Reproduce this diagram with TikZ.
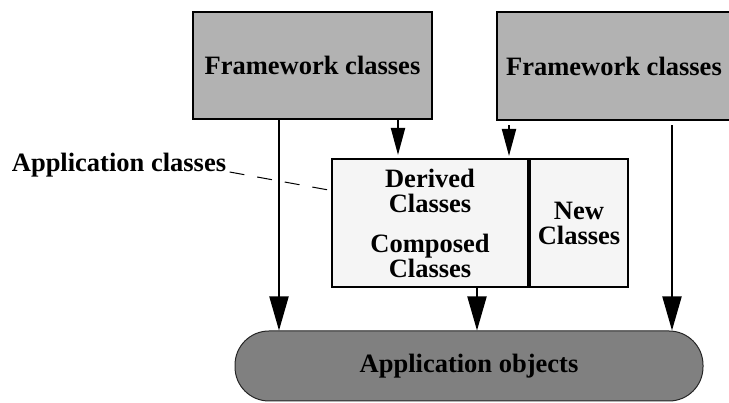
\documentclass[tikz,border=0pt]{standalone}
\usepackage{fontspec}
\setmainfont{Liberation Serif}
\usetikzlibrary{arrows.meta, positioning, calc}

\begin{document}
\begin{tikzpicture}[
    x=1pt, y=-1pt,
    font=\fontsize{26.5}{25}\selectfont\bfseries,
    framework/.style={rectangle, draw=black, line width=2pt, fill=black!30, minimum width=239pt, minimum height=107pt, inner sep=0pt},
    appclass/.style={rectangle, draw=black, line width=2pt, fill=black!4, minimum height=128pt, text centered, align=center, inner sep=0pt},
    objects/.style={rectangle, rounded corners=34pt, draw=black!85, line width=1pt, fill=black!50, minimum width=468pt, minimum height=70pt},
    uparrow/.style={line width=2pt, -{Triangle[length=27pt, width=14pt]}},
    downarrow/.style={line width=2pt, -{Triangle[length=34pt, width=19pt]}},
    leader/.style={line width=1pt, dash pattern=on 15pt off 13pt}
]
    \useasboundingbox (0,0) rectangle (729,403);

    % Framework classes
    \node[framework] (fw1) at (312.5,65.5) {Framework classes};
    \node[framework, minimum width=234pt, minimum height=108pt] (fw2) at (614,66.5) {Framework classes};

    % Application classes
    \node (appcls) at (119,165) {Application classes};
    \node[appclass, minimum width=196pt] (derived) at (430,223) {Derived\\Classes\\[15pt]Composed\\Classes};
    \node[appclass, minimum width=98pt, right=0pt of derived] (new) {New\\Classes};

    % Application objects
    \node[objects] (objects) at (469,366) {Application objects};

    % Connections
    \draw[downarrow] (fw1.south -| 279,0) -- (objects.north -| 279,0);
    \draw[uparrow, shorten >=3pt] (fw1.south -| 398,0) -- (derived.north -| 398,0);
    \draw[uparrow, shorten >=2pt] ($(fw2.south -| 509,0)+(0,4)$) -- (derived.north -| 509,0);
    \draw[downarrow] ($(fw2.south -| 672,0)+(0,4)$) -- (objects.north -| 672,0);
    \draw[downarrow] (derived.south -| 477,0) -- (objects.north -| 477,0);
    \draw[leader] ([yshift=-7pt]appcls.east) -- ($(derived.north west)+(3,33)$);

\end{tikzpicture}
\end{document}
